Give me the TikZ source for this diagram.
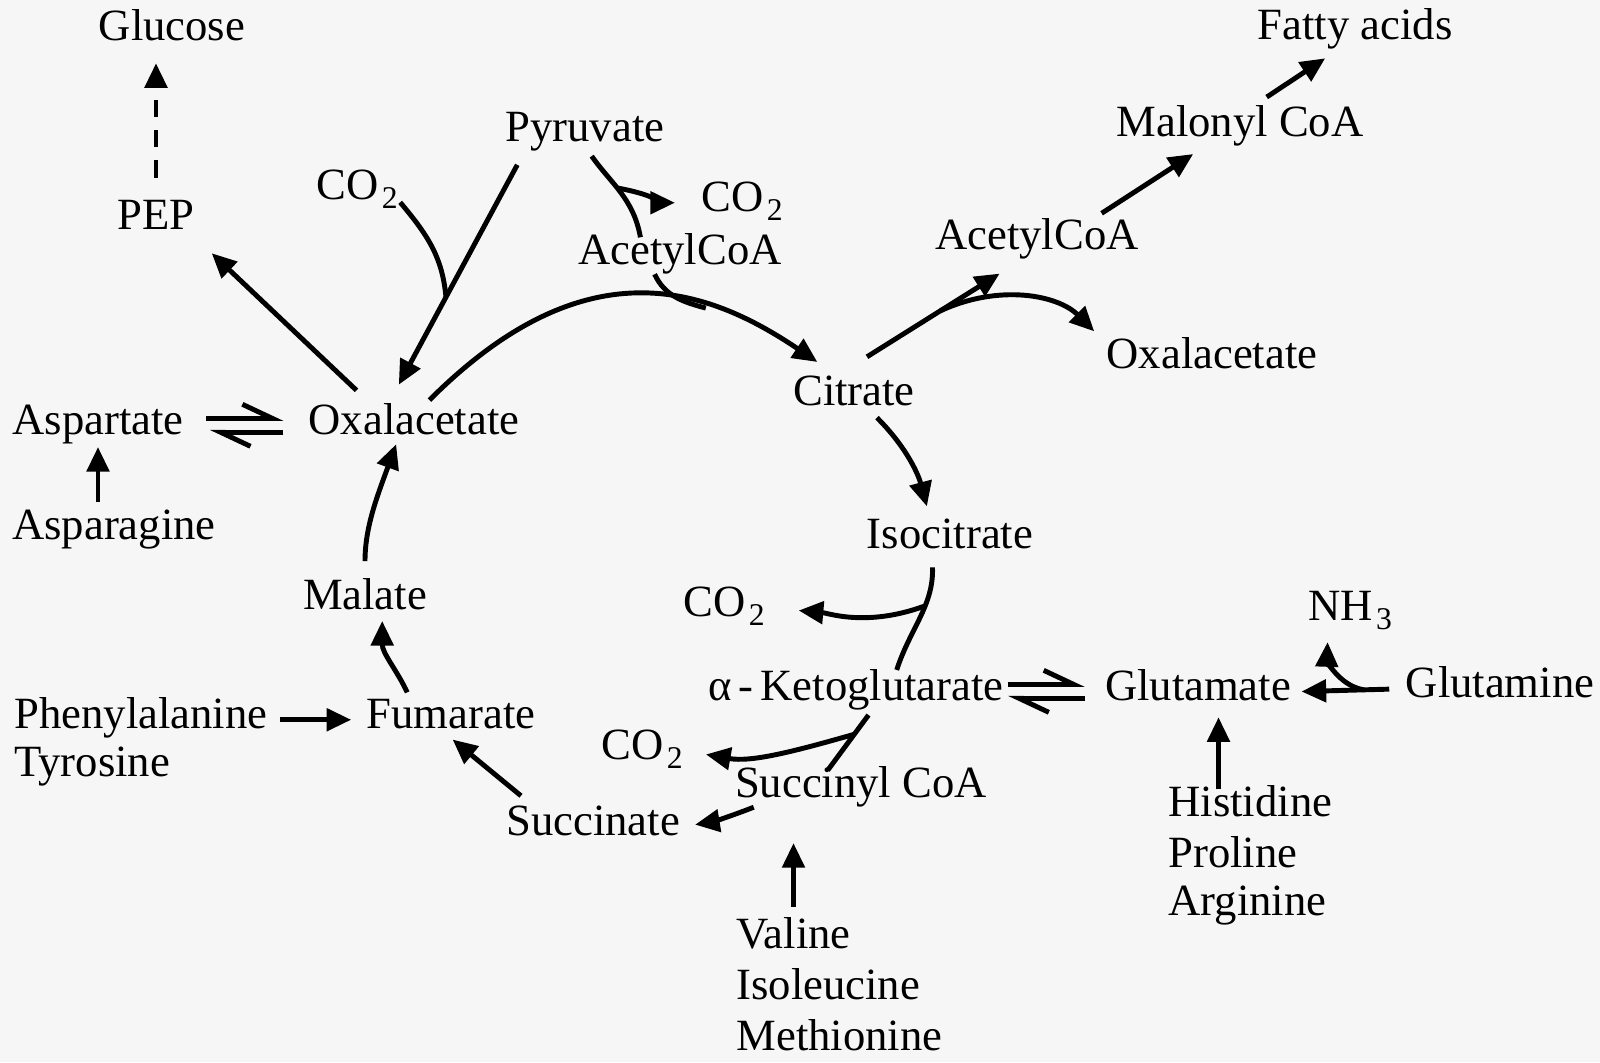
\documentclass[tikz,border=0pt]{standalone}
\usepackage{fontspec}
\setmainfont{Liberation Serif}
\usetikzlibrary{arrows.meta}
\definecolor{paper}{RGB}{246,246,246}
\newcommand{\chemsub}[1]{\hspace{0.08em}\raisebox{-2.6pt}{\fontsize{9}{9}\selectfont #1}}

\begin{document}
\begin{tikzpicture}
		[
		x=0.01cm, y=0.01cm, line width=1.4pt, font=\fontsize{12.7}{15}\selectfont,
		>={Triangle[length=7pt,width=6.3pt]},
		%styles for compounds and equilibria
		cpd/.style={inner sep=0pt, text height=0.69em, text depth=0.22em, anchor=base},
		harp/.style={-{Straight Barb[left,length=8.5pt,width=8pt]}}
		]
		
		%page
		\useasboundingbox (0,0) rectangle (1600,-1062);
		\fill[paper] (0,0) rectangle (1600,-1062);
		
		%compounds
		\node[cpd] (glu) at (172,-40) {Glucose};
		\node[cpd] (pep) at (156,-229) {PEP};
		\node[cpd] (pyr) at (585,-141) {Pyruvate};
		\node[cpd] (co2a) at (357,-199) {CO\chemsub{2}};
		\node[cpd] (co2b) at (742,-211) {CO\chemsub{2}};
		\node[cpd] (acoa1) at (680,-264) {AcetylCoA};
		\node[cpd] (acoa2) at (1037,-249) {AcetylCoA};
		\node[cpd] (malcoa) at (1240,-136) {Malonyl CoA};
		\node[cpd] (fat) at (1355,-39) {Fatty acids};
		\node[cpd] (oaa2) at (1212,-368) {Oxalacetate};
		\node[cpd] (cit) at (854,-405) {Citrate};
		\node[cpd] (asp) at (98,-434) {Aspartate};
		\node[cpd] (oaa) at (414,-434) {Oxalacetate};
		\node[cpd] (asn) at (114,-539) {Asparagine};
		\node[cpd] (iso) at (950,-548) {Isocitrate};
		\node[cpd] (mal) at (365,-609) {Malate};
		\node[cpd] (co2c) at (724,-616) {CO\chemsub{2}};
		\node[cpd] (nh3) at (1350,-620) {NH\chemsub{3}};
		\node[cpd] (akg) at (856,-700) {α\hspace{2pt}-\hspace{2pt}Ketoglutarate};
		\node[cpd] (glt) at (1198,-700) {Glutamate};
		\node[cpd] (gln) at (1500,-697) {Glutamine};
		\node[cpd, anchor=base west] (phe) at (12,-728) {Phenylalanine};
		\node[cpd, anchor=base west] (tyr) at (12,-776) {Tyrosine};
		\node[cpd] (fum) at (451,-728) {Fumarate};
		\node[cpd] (co2d) at (642,-759) {CO\chemsub{2}};
		\node[cpd] (sca) at (861,-797) {Succinyl CoA};
		\node[cpd] (suc) at (593,-835) {Succinate};
		\node[cpd, anchor=base west] (his) at (1166,-816) {Histidine};
		\node[cpd, anchor=base west] (pro) at (1166,-867) {Proline};
		\node[cpd, anchor=base west] (arg) at (1166,-915) {Arginine};
		\node[cpd, anchor=base west] (val) at (734,-948) {Valine};
		\node[cpd, anchor=base west] (ile) at (734,-999) {Isoleucine};
		\node[cpd, anchor=base west] (met) at (734,-1050) {Methionine};
		
		%gluconeogenesis
		\draw[->, dash pattern=on 5pt off 3.6pt, shorten <=7pt, shorten >=3.7pt] (pep.north) -- (pep.north |- glu.south);
		\draw[->, shorten <=7pt, shorten >=5.8pt] (oaa.155) -- (pep.south east);
		
		%pyruvate carboxylation
		\draw[->, shorten <=4.4pt, shorten >=7.3pt] (pyr.197) -- coordinate[pos=0.57] (j1) (oaa.146);
		\draw (co2a.-15) to[out=-50,in=95] (j1);
		
		%pyruvate dehydrogenase
		\draw[shorten <=1.7pt] (pyr.-80) to[out=-55,in=100] coordinate[pos=0.45] (j2) (acoa1.155);
		\draw[->, shorten >=6.8pt] (j2) to[out=-10,in=180] (co2b.west);
		
		%citrate synthase
		\draw[->, shorten <=2.9pt, shorten >=8.3pt] (oaa.66) to[out=45,in=146,out looseness=1.4,in looseness=1] coordinate[pos=0.66] (j3) (cit.124);
		\draw (acoa1.216) to[out=-65,in=165] (j3);
		
		%fatty acid branch
		\draw[->, shorten <=11.5pt, shorten >=7.7pt] (cit.139) -- coordinate[pos=0.565] (j4) (acoa2.232);
		\draw[->, shorten >=4pt] (j4) to[out=25,in=135] (oaa2.north west);
		\draw[->, shorten <=4.7pt, shorten >=4.1pt] (acoa2.20) -- (malcoa.208);
		\draw[->, shorten <=6.3pt, shorten >=4.7pt] (malcoa.66) -- (fat.229);
		
		%cycle, right half
		\draw[->, shorten <=1pt, shorten >=4.4pt] (cit.-42) to[out=-45,in=105] (iso.136);
		\draw[shorten <=2.6pt, shorten >=1pt] (iso.226) to[out=-88,in=72] coordinate[pos=0.4] (j5) (akg.25);
		\draw[->, shorten >=9pt] (j5) to[out=-160,in=-5] (co2c.east);
		\draw[shorten <=1.7pt] (akg.-49) -- coordinate[pos=0.4] (j6) (sca.151);
		\draw[->, shorten >=6pt] (j6) to[out=-164,in=-10] (co2d.east);
		
		%cycle, left half
		\draw[->, shorten >=3.7pt] ([xshift=6pt]sca.south west) to[bend left=6] (suc.east);
		\draw[->, shorten <=5.6pt, shorten >=0.6pt] (suc.162) -- (fum.south);
		\draw[->, shorten <=2.8pt, shorten >=0.5pt] (fum.155) to[out=115,in=-90] (mal.-47);
		\draw[->, shorten <=6pt] (mal.north) to[out=90,in=-110] (oaa.-134);
		
		%amino acids
		\draw[->, shorten <=3pt, shorten >=3.7pt] (phe.east) -- (fum.west);
		\draw[->, shorten <=2.8pt, shorten >=0.8pt] (asp.south |- asn.north) -- (asp.south);
		\draw[harp, shorten <=5.8pt, shorten >=6.5pt] ([yshift=2.1pt]asp.east) -- ([yshift=2.1pt]oaa.west);
		\draw[harp, shorten <=6.5pt, shorten >=6.7pt] ([yshift=-1.85pt]oaa.west) -- ([yshift=-1.85pt]asp.east);
		\draw[harp, shorten <=0.5pt, shorten >=5.1pt] ([yshift=2.1pt]akg.east) -- ([yshift=2.1pt]glt.west);
		\draw[harp, shorten <=5.1pt, shorten >=0.5pt] ([yshift=-1.85pt]glt.west) -- ([yshift=-1.85pt]akg.east);
		\draw[->, shorten <=4pt, shorten >=2.3pt] (gln.west) -- coordinate[pos=0.36] (j7) (glt.east);
		\draw[->, shorten >=3.4pt] (j7) to[out=170,in=-92] (nh3.220);
		\draw[->, shorten >=2pt] (his.north -| glt.-42) -- (glt.-42);
		\draw[->, shorten <=4pt, shorten >=10.2pt] (val.north) -- (val.north |- sca.south);
\end{tikzpicture}
\end{document}
